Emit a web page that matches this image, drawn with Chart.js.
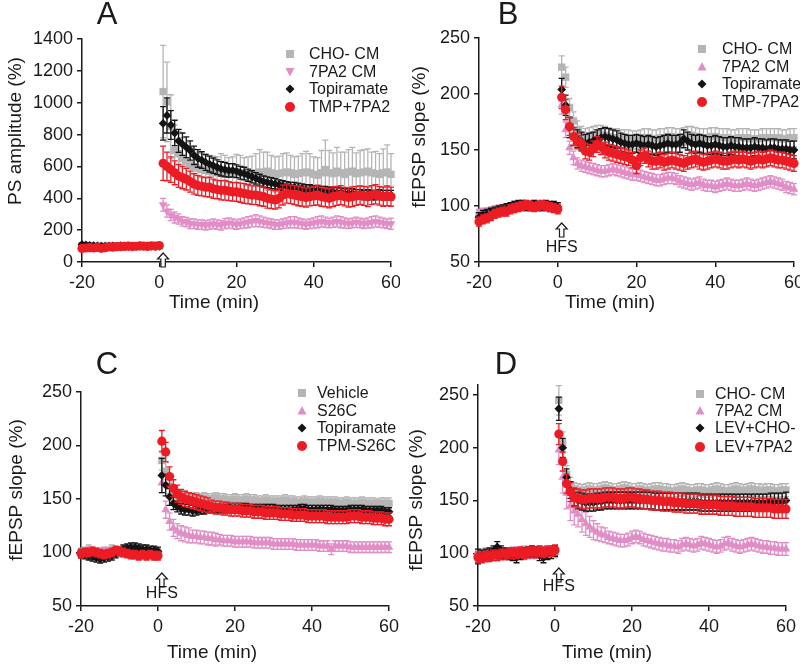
<!DOCTYPE html>
<html>
<head>
<meta charset="utf-8">
<script src="https://cdn.jsdelivr.net/npm/chart.js"></script>
<style>
  body { margin: 0; background: #fff; }
  #wrap { position: relative; width: 800px; height: 666px; overflow: hidden; }
  canvas { position: absolute; }
</style>
</head>
<body>
<div id="wrap">
  <canvas id="chartA" width="400" height="320" style="left:0;top:0"></canvas>
  <canvas id="chartB" width="400" height="320" style="left:400px;top:0"></canvas>
  <canvas id="chartC" width="400" height="346" style="left:0;top:320px"></canvas>
  <canvas id="chartD" width="400" height="346" style="left:400px;top:320px"></canvas>
</div>
<script>
// time grid: baseline -20..0, then 1..60 min after HFS
const minutes = [];
for (let t = -20; t <= 60; t++) minutes.push(t);
const xTicks = [-20, 0, 20, 40, 60];
const yTicksA = [0, 200, 400, 600, 800, 1000, 1200, 1400];
const yTicksB = [50, 100, 150, 200, 250];

// ---- panel A (PS amplitude, %) ----
const aCho = [100, 98, 102, 99, 101, 97, 100, 103, 99, 101, 100, 98, 102, 100, 99, 101, 100, 102, 99, 100, 101,
  1070, 1005, 850, 700, 680, 650, 630, 610, 600, 590, 580, 575, 570, 565, 560, 570, 560, 555, 560, 565,
  560, 555, 550, 555, 560, 565, 560, 570, 560, 550, 555, 560, 565, 560, 550, 555, 560, 565, 560, 550,
  545, 560, 580, 560, 555, 570, 560, 550, 565, 570, 555, 560, 565, 570, 560, 555, 550, 560, 565, 550];
const aChoErr = [12, 10, 11, 9, 10, 10, 11, 10, 9, 10, 10, 11, 10, 9, 10, 10, 11, 10, 10, 9, 10,
  290, 250, 200, 160, 140, 130, 120, 110, 110, 100, 100, 100, 100, 100, 100, 110, 110, 100, 100, 110,
  110, 100, 110, 110, 120, 140, 130, 120, 110, 110, 110, 120, 120, 110, 110, 110, 120, 130, 120, 110,
  110, 140, 185, 140, 130, 150, 130, 140, 140, 150, 130, 140, 140, 140, 130, 140, 130, 150, 170, 130];
const aTox = [100, 102, 98, 101, 99, 100, 97, 101, 100, 99, 102, 100, 98, 101, 100, 99, 101, 100, 98, 100, 101,
  360, 320, 295, 280, 270, 255, 250, 240, 240, 235, 235, 230, 235, 240, 235, 230, 240, 245, 240, 235,
  240, 245, 250, 255, 260, 255, 250, 245, 240, 235, 235, 240, 245, 250, 250, 245, 240, 235, 240, 245,
  250, 255, 250, 245, 250, 255, 250, 245, 240, 245, 250, 245, 240, 245, 250, 255, 250, 245, 240, 240];
const aToxErr = [8, 8, 8, 8, 8, 8, 8, 8, 8, 8, 8, 8, 8, 8, 8, 8, 8, 8, 8, 8, 8,
  40, 38, 35, 35, 32, 30, 30, 30, 30, 30, 30, 30, 30, 30, 30, 30, 32, 32, 30, 30,
  30, 32, 35, 35, 38, 35, 32, 30, 30, 30, 30, 30, 32, 35, 35, 32, 30, 30, 30, 32,
  35, 35, 32, 30, 32, 35, 35, 32, 30, 30, 32, 30, 30, 32, 35, 35, 32, 30, 30, 35];
const aTop = [110, 108, 105, 103, 101, 99, 100, 99, 101, 100, 102, 100, 99, 101, 100, 102, 100, 101, 100, 99, 100,
  870, 920, 860, 810, 760, 740, 720, 700, 670, 650, 640, 625, 615, 605, 595, 585, 580, 575, 575, 570,
  560, 555, 545, 535, 525, 515, 505, 500, 495, 490, 485, 480, 475, 470, 470, 465, 460, 455, 455, 450,
  450, 445, 445, 440, 440, 435, 435, 430, 430, 430, 425, 425, 420, 425, 420, 420, 425, 420, 420, 420];
const aTopErr = [10, 10, 10, 10, 10, 10, 10, 10, 10, 10, 10, 10, 10, 10, 10, 10, 10, 10, 10, 10, 10,
  105, 110, 90, 80, 72, 70, 65, 60, 58, 55, 52, 50, 50, 48, 46, 45, 45, 42, 42, 40,
  40, 40, 38, 38, 36, 36, 35, 34, 34, 33, 30, 30, 30, 30, 30, 30, 30, 30, 30, 30,
  30, 30, 30, 30, 30, 30, 30, 30, 30, 30, 30, 30, 30, 30, 30, 30, 30, 30, 30, 30];
const aTmp = [85, 88, 90, 88, 92, 86, 90, 95, 93, 96, 97, 98, 100, 97, 99, 101, 100, 98, 102, 100, 103,
  620, 600, 580, 560, 540, 530, 520, 505, 490, 480, 475, 470, 470, 460, 455, 450, 450, 445, 440, 440,
  435, 430, 425, 420, 420, 415, 410, 400, 395, 390, 400, 420, 430, 425, 420, 415, 410, 405, 410, 415,
  420, 410, 405, 400, 410, 415, 420, 410, 405, 410, 415, 420, 415, 410, 420, 425, 415, 410, 415, 410];
const aTmpErr = [10, 10, 10, 10, 10, 10, 10, 10, 10, 10, 10, 10, 10, 10, 10, 10, 10, 10, 10, 10, 10,
  107, 90, 80, 75, 72, 70, 68, 66, 64, 62, 60, 60, 62, 60, 58, 60, 62, 60, 58, 60,
  60, 62, 60, 58, 60, 62, 60, 62, 60, 58, 60, 62, 60, 58, 60, 62, 60, 60, 58, 60,
  62, 60, 58, 60, 62, 60, 60, 58, 60, 62, 60, 58, 60, 62, 60, 60, 58, 60, 62, 60];

// ---- panel B (fEPSP slope, %) ----
const bCho = [92, 93, 94, 95, 96, 96, 97, 98, 99, 100, 100, 101, 100, 100, 101, 100, 100, 100, 99, 100, 99,
  224, 215, 188, 176, 168, 163, 161, 162, 163, 164, 164, 163, 162, 161, 161, 160, 160, 160, 159, 159,
  160, 161, 161, 160, 160, 161, 161, 162, 162, 161, 161, 162, 163, 163, 162, 161, 161, 161, 162, 162,
  161, 161, 161, 160, 160, 161, 161, 161, 160, 160, 160, 161, 161, 161, 161, 161, 160, 160, 161, 161];
const bChoErr = [4, 4, 4, 4, 4, 4, 4, 4, 4, 4, 4, 4, 4, 4, 4, 4, 4, 4, 4, 4, 4,
  10, 9, 8, 8, 8, 8, 8, 8, 8, 8, 8, 8, 8, 8, 8, 8, 8, 8, 8, 8,
  8, 8, 8, 8, 8, 8, 8, 8, 8, 8, 8, 8, 8, 8, 8, 8, 8, 8, 8, 8,
  8, 8, 8, 8, 8, 8, 8, 8, 8, 8, 8, 8, 8, 8, 8, 8, 8, 8, 8, 8];
const bTox = [93, 94, 94, 95, 96, 97, 97, 98, 99, 100, 100, 100, 101, 100, 100, 101, 100, 100, 99, 99, 98,
  190, 168, 152, 143, 138, 136, 135, 134, 133, 132, 131, 131, 132, 133, 132, 131, 130, 129, 128, 128,
  127, 126, 125, 124, 123, 123, 124, 125, 125, 124, 122, 121, 120, 119, 120, 121, 119, 118, 118, 117,
  118, 119, 120, 119, 118, 118, 119, 120, 119, 118, 119, 120, 121, 122, 121, 120, 119, 117, 116, 115];
const bToxErr = [4, 4, 4, 4, 4, 4, 4, 4, 4, 4, 4, 4, 4, 4, 4, 4, 4, 4, 4, 4, 4,
  8, 7, 6, 6, 5, 5, 5, 5, 5, 5, 5, 5, 5, 5, 5, 5, 5, 5, 5, 5,
  5, 5, 5, 5, 5, 5, 5, 5, 5, 5, 5, 5, 5, 5, 5, 5, 5, 5, 5, 5,
  5, 5, 5, 5, 5, 5, 5, 5, 5, 5, 5, 5, 5, 5, 5, 5, 5, 5, 5, 5];
const bTop = [90, 92, 93, 94, 95, 96, 97, 98, 99, 100, 101, 101, 100, 100, 101, 100, 100, 101, 100, 100, 99,
  204, 190, 170, 162, 160, 158, 156, 157, 158, 160, 161, 162, 161, 160, 159, 157, 156, 155, 155, 156,
  155, 154, 155, 154, 153, 154, 155, 156, 155, 155, 156, 160, 158, 156, 155, 156, 155, 154, 154, 155,
  154, 153, 153, 154, 153, 153, 152, 152, 152, 153, 152, 152, 151, 152, 152, 151, 151, 151, 150, 150];
const bTopErr = [4, 4, 4, 4, 4, 4, 4, 4, 4, 4, 4, 4, 4, 4, 4, 4, 4, 4, 4, 4, 4,
  10, 9, 9, 8, 8, 8, 8, 8, 8, 8, 8, 8, 8, 8, 8, 8, 8, 8, 8, 8,
  8, 8, 8, 8, 8, 8, 8, 8, 8, 8, 8, 8, 8, 8, 8, 8, 8, 8, 8, 8,
  8, 8, 8, 8, 8, 8, 8, 8, 8, 8, 8, 8, 8, 8, 8, 8, 8, 8, 8, 8];
const bTmp = [86, 88, 89, 91, 93, 94, 95, 95, 97, 98, 99, 100, 101, 100, 99, 100, 101, 100, 99, 98, 97,
  197, 186, 171, 162, 158, 156, 149, 148, 151, 155, 153, 150, 148, 147, 146, 145, 144, 143, 141, 136,
  143, 145, 142, 140, 140, 141, 139, 140, 141, 140, 139, 138, 140, 141, 142, 140, 139, 140, 141, 142,
  141, 140, 140, 141, 142, 141, 142, 141, 140, 141, 142, 141, 142, 143, 142, 141, 141, 140, 139, 138];
const bTmpErr = [4, 4, 4, 4, 4, 4, 4, 4, 4, 4, 4, 4, 4, 4, 4, 4, 4, 4, 4, 4, 4,
  10, 9, 8, 8, 7, 7, 7, 7, 7, 7, 7, 7, 7, 7, 7, 7, 7, 7, 7, 7,
  7, 7, 7, 7, 7, 7, 7, 7, 7, 7, 7, 7, 7, 7, 7, 7, 7, 7, 7, 7,
  7, 7, 7, 7, 7, 7, 7, 7, 7, 7, 7, 7, 7, 7, 7, 7, 7, 7, 7, 7];

// ---- panel C ----
const cVeh = [100, 101, 102, 101, 100, 99, 100, 101, 102, 101, 100, 101, 102, 101, 100, 100, 99, 100, 101, 100, 100,
  186, 176, 162, 155, 153, 152, 152, 151, 151, 151, 150, 151, 150, 150, 151, 150, 150, 149, 149, 150,
  149, 149, 150, 149, 149, 148, 148, 149, 148, 148, 148, 148, 149, 148, 148, 147, 147, 148, 147, 147,
  147, 148, 147, 147, 147, 147, 146, 146, 147, 146, 146, 146, 147, 146, 146, 146, 145, 146, 146, 146];
const cVehErr = [4, 4, 5, 4, 4, 5, 4, 4, 5, 4, 4, 4, 5, 4, 4, 5, 4, 4, 4, 5, 4,
  9, 8, 7, 6, 6, 6, 6, 5, 5, 5, 5, 5, 5, 5, 5, 5, 5, 5, 5, 5,
  5, 5, 5, 5, 5, 5, 5, 5, 5, 5, 5, 5, 5, 5, 5, 5, 5, 5, 5, 5,
  5, 5, 5, 5, 5, 5, 5, 5, 5, 5, 5, 5, 5, 5, 5, 5, 5, 5, 5, 5];
const cS26 = [99, 100, 101, 100, 99, 100, 101, 100, 99, 100, 101, 100, 100, 99, 100, 101, 100, 99, 100, 100, 99,
  165, 140, 129, 123, 120, 118, 117, 116, 115, 115, 114, 114, 113, 113, 112, 112, 111, 111, 111, 110,
  110, 110, 110, 110, 109, 109, 109, 109, 109, 108, 108, 108, 108, 108, 108, 107, 107, 107, 107, 107,
  107, 106, 106, 106, 103, 106, 106, 106, 106, 105, 105, 105, 105, 105, 105, 105, 105, 105, 105, 105];
const cS26Err = [4, 4, 4, 4, 4, 4, 4, 4, 4, 4, 4, 4, 4, 4, 4, 4, 4, 4, 4, 4, 4,
  9, 8, 8, 8, 7, 7, 7, 7, 6, 6, 6, 6, 6, 6, 6, 5, 5, 5, 5, 5,
  5, 5, 5, 5, 5, 5, 5, 5, 5, 5, 5, 5, 5, 5, 5, 5, 5, 5, 5, 5,
  5, 5, 5, 5, 5, 5, 5, 5, 5, 5, 5, 5, 5, 5, 5, 5, 5, 5, 5, 5];
const cTop = [99, 98, 97, 96, 95, 94, 95, 96, 97, 99, 101, 103, 104, 105, 105, 104, 103, 103, 102, 102, 101,
  172, 163, 152, 146, 143, 141, 140, 140, 139, 139, 140, 140, 141, 141, 141, 141, 141, 141, 142, 142,
  142, 142, 142, 141, 141, 141, 141, 141, 141, 141, 140, 140, 140, 140, 140, 140, 141, 141, 140, 140,
  140, 140, 140, 140, 140, 139, 139, 139, 139, 140, 140, 140, 140, 139, 139, 139, 139, 139, 138, 138];
const cTopErr = [4, 4, 4, 4, 4, 4, 4, 4, 4, 4, 4, 4, 4, 4, 4, 4, 4, 4, 4, 4, 4,
  16, 10, 8, 6, 5, 5, 5, 5, 5, 4, 4, 4, 4, 4, 4, 4, 4, 4, 4, 4,
  4, 4, 4, 4, 4, 4, 4, 4, 4, 4, 4, 4, 4, 4, 4, 4, 4, 4, 4, 4,
  4, 4, 4, 4, 4, 4, 4, 4, 4, 4, 4, 4, 4, 4, 4, 4, 4, 4, 4, 4];
const cTpm = [99, 100, 100, 101, 100, 99, 98, 99, 100, 102, 101, 100, 99, 98, 98, 97, 98, 97, 98, 97, 97,
  204, 194, 171, 160, 155, 152, 150, 149, 148, 147, 146, 145, 144, 143, 142, 142, 141, 141, 140, 140,
  140, 139, 139, 139, 138, 138, 138, 137, 137, 137, 137, 136, 136, 136, 135, 135, 135, 135, 134, 134,
  134, 134, 134, 133, 133, 133, 133, 133, 133, 134, 134, 134, 133, 133, 133, 132, 132, 132, 131, 131];
const cTpmErr = [4, 4, 4, 4, 4, 4, 4, 4, 4, 4, 4, 4, 4, 4, 4, 4, 4, 4, 4, 4, 4,
  10, 9, 9, 8, 8, 7, 7, 7, 7, 7, 7, 7, 7, 6, 6, 6, 6, 6, 6, 6,
  6, 6, 6, 6, 6, 6, 6, 6, 6, 6, 6, 6, 6, 6, 6, 6, 6, 6, 6, 6,
  6, 6, 6, 6, 6, 6, 6, 6, 6, 6, 6, 6, 6, 6, 6, 6, 6, 6, 6, 6];

// ---- panel D ----
const dCho = [98, 99, 100, 99, 100, 101, 100, 99, 100, 101, 100, 101, 102, 101, 100, 101, 102, 101, 100, 101, 102,
  245, 205, 175, 165, 161, 160, 159, 160, 161, 160, 160, 161, 162, 161, 160, 160, 161, 162, 161, 160,
  160, 161, 160, 159, 160, 161, 161, 160, 160, 159, 159, 160, 161, 160, 159, 159, 160, 160, 159, 159,
  160, 161, 160, 159, 159, 160, 161, 160, 159, 160, 161, 160, 160, 159, 160, 160, 159, 159, 160, 160];
const dChoErr = [5, 5, 5, 5, 5, 5, 5, 5, 5, 5, 5, 5, 5, 5, 5, 5, 5, 5, 5, 5, 5,
  14, 10, 8, 7, 6, 6, 6, 6, 6, 6, 6, 6, 6, 6, 6, 6, 6, 6, 6, 6,
  6, 6, 6, 6, 6, 6, 6, 6, 6, 6, 6, 6, 6, 6, 6, 6, 6, 6, 6, 6,
  6, 6, 6, 6, 6, 6, 6, 6, 6, 6, 6, 6, 6, 6, 6, 6, 6, 6, 6, 6];
const dTox = [97, 98, 97, 98, 99, 98, 99, 100, 99, 100, 101, 100, 99, 100, 101, 100, 101, 100, 101, 102, 101,
  198, 172, 157, 145, 140, 137, 132, 128, 125, 122, 120, 118, 117, 115, 114, 113, 112, 112, 113, 115,
  116, 115, 113, 112, 111, 110, 109, 108, 108, 107, 107, 106, 108, 109, 108, 107, 108, 110, 109, 108,
  107, 106, 107, 109, 110, 108, 107, 106, 107, 108, 109, 108, 107, 106, 106, 105, 105, 104, 104, 104];
const dToxErr = [5, 5, 5, 5, 5, 5, 5, 5, 5, 5, 5, 5, 5, 5, 5, 5, 5, 5, 5, 5, 5,
  14, 15, 15, 14, 13, 12, 12, 11, 10, 9, 8, 7, 7, 6, 6, 6, 6, 6, 6, 6,
  6, 6, 6, 6, 6, 6, 6, 6, 6, 6, 6, 6, 6, 6, 6, 6, 6, 6, 6, 6,
  6, 6, 6, 6, 6, 6, 6, 6, 6, 6, 6, 6, 6, 6, 6, 6, 6, 6, 6, 6];
const dLev = [97, 98, 99, 100, 102, 106, 102, 100, 99, 98, 96, 99, 100, 101, 102, 101, 98, 96, 99, 100, 102,
  237, 200, 172, 160, 153, 150, 149, 148, 148, 148, 149, 149, 150, 150, 150, 150, 150, 150, 150, 150,
  150, 150, 150, 150, 150, 149, 149, 149, 149, 149, 149, 149, 149, 149, 149, 149, 149, 148, 148, 148,
  148, 148, 148, 148, 148, 148, 148, 148, 148, 148, 148, 148, 148, 148, 148, 149, 149, 149, 149, 150];
const dLevErr = [7, 5, 5, 5, 5, 5, 5, 5, 5, 5, 5, 5, 5, 5, 5, 5, 5, 5, 5, 5, 5,
  11, 9, 8, 8, 8, 8, 8, 8, 8, 8, 8, 8, 8, 8, 8, 8, 8, 8, 8, 8,
  8, 8, 8, 8, 8, 8, 8, 8, 8, 8, 8, 8, 8, 8, 8, 8, 8, 8, 8, 8,
  8, 8, 8, 8, 8, 8, 8, 8, 8, 8, 8, 8, 8, 8, 8, 8, 8, 8, 8, 8];
const dLev7 = [96, 96, 97, 97, 98, 98, 99, 99, 100, 100, 100, 101, 100, 101, 101, 101, 102, 101, 102, 102, 103,
  213, 187, 166, 158, 153, 152, 151, 151, 152, 152, 152, 152, 153, 153, 153, 152, 152, 152, 153, 153,
  152, 152, 151, 151, 150, 150, 150, 149, 149, 149, 148, 148, 148, 147, 147, 147, 147, 146, 146, 146,
  146, 146, 145, 145, 145, 145, 144, 144, 144, 144, 144, 143, 143, 143, 143, 143, 142, 142, 142, 142];
const dLev7Err = [5, 5, 5, 5, 5, 5, 5, 5, 5, 5, 5, 5, 5, 5, 5, 5, 5, 5, 5, 5, 5,
  10, 9, 9, 9, 9, 9, 9, 9, 9, 9, 9, 9, 9, 9, 9, 9, 9, 9, 9, 9,
  9, 9, 9, 9, 9, 9, 9, 9, 9, 9, 9, 9, 9, 9, 9, 9, 9, 9, 9, 9,
  9, 9, 9, 9, 9, 9, 9, 9, 9, 9, 9, 9, 9, 9, 9, 9, 9, 9, 9, 9];

const GRAY = '#b5b5b5', PINK = '#e18dc6', BLACK = '#141414', RED = '#ec1c24';
const INK = '#1a1a1a';
const FONT = '"Liberation Sans", Arial, Helvetica, sans-serif';
Chart.defaults.font.family = FONT;

// vertical SEM bars, drawn just before each dataset's markers
const errorBars = {
  id: 'errorBars',
  beforeDatasetDraw(chart, args) {
    const ds = chart.data.datasets[args.index];
    if (!ds.err) return;
    const ys = chart.scales.y, ctx = chart.ctx;
    ctx.save();
    ctx.strokeStyle = ds.pointBackgroundColor;
    ctx.lineWidth = 1.3;
    args.meta.data.forEach((pt, i) => {
      const v = ds.data[i].y, e = ds.err[i];
      const top = ys.getPixelForValue(v + e), bot = ys.getPixelForValue(v - e);
      ctx.beginPath();
      ctx.moveTo(pt.x, top); ctx.lineTo(pt.x, bot);
      ctx.moveTo(pt.x - 3, top); ctx.lineTo(pt.x + 3, top);
      ctx.moveTo(pt.x - 3, bot); ctx.lineTo(pt.x + 3, bot);
      ctx.stroke();
    });
    ctx.restore();
  }
};

function marker(ctx, kind, x, y, color, down) {
  ctx.fillStyle = color;
  ctx.beginPath();
  if (kind === 'rect') {
    ctx.rect(x - 4, y - 4, 8, 8);
  } else if (kind === 'triangle') {
    const s = down ? -1 : 1;
    ctx.moveTo(x, y - 5 * s);
    ctx.lineTo(x + 4.5, y + 3.5 * s);
    ctx.lineTo(x - 4.5, y + 3.5 * s);
    ctx.closePath();
  } else if (kind === 'rectRot') {
    ctx.moveTo(x, y - 4.5); ctx.lineTo(x + 4.5, y); ctx.lineTo(x, y + 4.5); ctx.lineTo(x - 4.5, y);
    ctx.closePath();
  } else {
    ctx.arc(x, y, 5, 0, Math.PI * 2);
  }
  ctx.fill();
}

function hollowArrow(ctx, x, y) {
  ctx.beginPath();
  ctx.moveTo(x, y);
  ctx.lineTo(x + 5.5, y + 6);
  ctx.lineTo(x + 2.2, y + 6);
  ctx.lineTo(x + 2.2, y + 14);
  ctx.lineTo(x - 2.2, y + 14);
  ctx.lineTo(x - 2.2, y + 6);
  ctx.lineTo(x - 5.5, y + 6);
  ctx.closePath();
  ctx.fillStyle = '#fff';
  ctx.fill();
  ctx.lineWidth = 1.2;
  ctx.strokeStyle = INK;
  ctx.stroke();
}

const kinds = ['rect', 'triangle', 'rectRot', 'circle'];
const colors = [GRAY, PINK, BLACK, RED];
const radii = [5.2, 5, 4.4, 4.6];

function panel(id, o) {
  const canvas = document.getElementById(id);
  const W = canvas.width, H = canvas.height;
  const datasets = o.series.map((s, k) => ({
    label: o.labels[k],
    data: minutes.map((t, i) => ({ x: t, y: s[i] })),
    err: o.errors[k],
    pointStyle: kinds[k],
    pointRadius: radii[k],
    pointRotation: (k === 1 && o.downTri) ? 180 : 0,
    pointBackgroundColor: colors[k],
    pointBorderColor: colors[k],
    pointBorderWidth: 0,
    showLine: false,
    clip: false,
    order: 4 - k
  }));

  const decor = {
    id: 'decor',
    afterDraw(chart) {
      const ctx = chart.ctx;
      ctx.save();
      ctx.fillStyle = INK;
      // panel letter
      ctx.font = '31px ' + FONT;
      ctx.textAlign = 'center';
      ctx.textBaseline = 'middle';
      ctx.fillText(o.letter, o.letterPos[0], o.letterPos[1]);
      // axis titles
      ctx.font = '19px ' + FONT;
      ctx.fillText('Time (min)', o.xTitle[0], o.xTitle[1]);
      ctx.save();
      ctx.translate(o.yTitle[0], o.yTitle[1]);
      ctx.rotate(-Math.PI / 2);
      ctx.fillText(o.yLabel, 0, 0);
      ctx.restore();
      // legend
      ctx.font = '16px ' + FONT;
      ctx.textAlign = 'left';
      o.labels.forEach((lab, k) => {
        const y = o.legend.rows[k];
        marker(ctx, kinds[k], o.legend.mx, y, colors[k], k === 1 && o.downTri);
        ctx.fillStyle = INK;
        ctx.fillText(lab, o.legend.tx, y + 1);
      });
      // HFS arrow
      const ax = chart.scales.x.getPixelForValue(1);
      hollowArrow(ctx, ax, o.arrowY);
      if (o.hfsY) {
        ctx.fillStyle = INK;
        ctx.textAlign = 'center';
        ctx.fillText('HFS', ax, o.hfsY);
      }
      ctx.restore();
    }
  };

  new Chart(canvas, {
    type: 'scatter',
    data: { datasets },
    plugins: [errorBars, decor],
    options: {
      responsive: false,
      animation: false,
      events: [],
      layout: { padding: { left: 0, top: o.area.top, right: W - o.area.right, bottom: 0 } },
      plugins: { legend: { display: false }, tooltip: { enabled: false } },
      scales: {
        x: {
          type: 'linear', min: -20, max: 60,
          afterBuildTicks: s => { s.ticks = xTicks.map(v => ({ value: v })); },
          afterFit: s => { s.height = H - o.area.bottom; s.paddingLeft = 0; s.paddingRight = 0; },
          ticks: { font: { size: 18 }, color: INK, padding: 5, maxRotation: 0, callback: v => String(v) },
          grid: { drawOnChartArea: false, tickLength: 5, color: INK, lineWidth: 1.5 },
          border: { color: INK, width: 1.5 }
        },
        y: {
          type: 'linear', min: o.yMin, max: o.yMax,
          afterBuildTicks: s => { s.ticks = o.yTicks.map(v => ({ value: v })); },
          afterFit: s => { s.width = o.area.left; s.paddingTop = 0; s.paddingBottom = 0; },
          ticks: { font: { size: 18 }, color: INK, padding: 4, callback: v => String(v) },
          grid: { drawOnChartArea: false, tickLength: 5, color: INK, lineWidth: 1.5 },
          border: { color: INK, width: 1.5 }
        }
      }
    }
  });
}

panel('chartA', {
  series: [aCho, aTox, aTop, aTmp], errors: [aChoErr, aToxErr, aTopErr, aTmpErr],
  labels: ['CHO- CM', '7PA2 CM', 'Topiramate', 'TMP+7PA2'], downTri: true,
  yMin: 0, yMax: 1400, yTicks: yTicksA, yLabel: 'PS amplitude (%)',
  area: { left: 82, right: 391, top: 39, bottom: 262 },
  letter: 'A', letterPos: [107, 15], xTitle: [214, 303], yTitle: [16, 131],
  legend: { mx: 290, tx: 309, rows: [54, 71.5, 89, 107] },
  arrowY: 253, hfsY: null
});
panel('chartB', {
  series: [bCho, bTox, bTop, bTmp], errors: [bChoErr, bToxErr, bTopErr, bTmpErr],
  labels: ['CHO- CM', '7PA2 CM', 'Topiramate', 'TMP-7PA2'],
  yMin: 50, yMax: 250, yTicks: yTicksB, yLabel: 'fEPSP slope (%)',
  area: { left: 79, right: 394, top: 38, bottom: 262 },
  letter: 'B', letterPos: [108, 15], xTitle: [210, 303], yTitle: [20, 137],
  legend: { mx: 302, tx: 322, rows: [49, 67, 84, 102] },
  arrowY: 223, hfsY: 248
});
panel('chartC', {
  series: [cVeh, cS26, cTop, cTpm], errors: [cVehErr, cS26Err, cTopErr, cTpmErr],
  labels: ['Vehicle', 'S26C', 'Topiramate', 'TPM-S26C'],
  yMin: 50, yMax: 250, yTicks: yTicksB, yLabel: 'fEPSP slope (%)',
  area: { left: 81, right: 389, top: 72, bottom: 286 },
  letter: 'C', letterPos: [107, 45], xTitle: [212, 333], yTitle: [17, 170],
  legend: { mx: 302, tx: 317, rows: [73, 91, 108, 126] },
  arrowY: 253, hfsY: 274
});
panel('chartD', {
  series: [dCho, dTox, dLev, dLev7], errors: [dChoErr, dToxErr, dLevErr, dLev7Err],
  labels: ['CHO- CM', '7PA2 CM', 'LEV+CHO-', 'LEV+7PA2'],
  yMin: 50, yMax: 260, yTicks: yTicksB, yLabel: 'fEPSP slope (%)',
  area: { left: 78, right: 386, top: 64.5, bottom: 286 },
  letter: 'D', letterPos: [106, 45], xTitle: [207, 333], yTitle: [17, 180],
  legend: { mx: 300, tx: 315, rows: [74, 91, 108, 127] },
  arrowY: 248, hfsY: 267
});
</script>
